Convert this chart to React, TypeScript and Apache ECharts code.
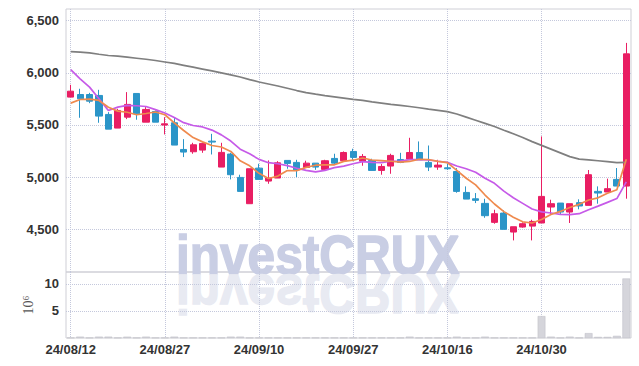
import React, { useEffect, useRef } from "react";
import * as echarts from "echarts";

const dates = [
  "24/08/12", "24/08/13", "24/08/14", "24/08/16", "24/08/19", "24/08/20", "24/08/21", "24/08/22", "24/08/23", "24/08/26",
  "24/08/27", "24/08/28", "24/08/29", "24/08/30", "24/09/02", "24/09/03", "24/09/04", "24/09/05", "24/09/06", "24/09/09",
  "24/09/10", "24/09/11", "24/09/12", "24/09/13", "24/09/19", "24/09/20", "24/09/23", "24/09/24", "24/09/25", "24/09/26",
  "24/09/27", "24/09/30", "24/10/02", "24/10/04", "24/10/07", "24/10/08", "24/10/10", "24/10/11", "24/10/14", "24/10/15",
  "24/10/16", "24/10/17", "24/10/18", "24/10/21", "24/10/22", "24/10/23", "24/10/24", "24/10/25", "24/10/28", "24/10/29",
  "24/10/30", "24/10/31", "24/11/01", "24/11/04", "24/11/05", "24/11/06", "24/11/07", "24/11/08", "24/11/11", "24/11/12",
];

const opens = [
  5767, 5792, 5792, 5783, 5601, 5470, 5575, 5802, 5527, 5629,
  5499, 5521, 5265, 5243, 5259, 5345, 5096, 5221, 4997, 4745,
  5086, 4962, 4991, 5160, 5141, 5093, 5134, 5074, 5179, 5157,
  5246, 5153, 5160, 5064, 5106, 5169, 5173, 5236, 5141, 5096,
  5089, 5054, 4853, 4792, 4748, 4566, 4655, 4473, 4521, 4530,
  4560, 4713, 4751, 4665, 4755, 4729, 4863, 4857, 4978, 4914,
];
const closes = [
  5824, 5751, 5728, 5585, 5460, 5639, 5697, 5607, 5649, 5527,
  5511, 5307, 5240, 5310, 5323, 5336, 5237, 5023, 4863, 5080,
  4978, 4991, 5137, 5131, 5070, 5134, 5096, 5157, 5134, 5236,
  5189, 5198, 5064, 5102, 5208, 5141, 5236, 5166, 5096, 5115,
  5080, 4863, 4789, 4777, 4630, 4649, 4499, 4524, 4553, 4575,
  4815, 4745, 4665, 4745, 4723, 5023, 4847, 4889, 4914, 6182,
];
const lows = [
  5767, 5569, 5709, 5521, 5460, 5470, 5556, 5550, 5527, 5527,
  5409, 5307, 5192, 5224, 5233, 5217, 5096, 4978, 4863, 4745,
  4978, 4936, 4991, 5080, 5000, 5093, 5070, 5074, 5122, 5157,
  5153, 5109, 5064, 5023, 5032, 5134, 5173, 5166, 5058, 5070,
  5070, 4850, 4789, 4751, 4610, 4553, 4499, 4393, 4515, 4393,
  4560, 4643, 4643, 4560, 4691, 4729, 4745, 4857, 4914, 4793,
];
const highs = [
  5885, 5847, 5808, 5837, 5623, 5655, 5815, 5802, 5671, 5639,
  5575, 5575, 5364, 5329, 5330, 5415, 5329, 5233, 5023, 5080,
  5128, 5160, 5153, 5160, 5166, 5157, 5134, 5166, 5224, 5246,
  5272, 5221, 5176, 5125, 5224, 5233, 5377, 5342, 5303, 5166,
  5128, 5086, 4911, 4847, 4792, 4687, 4681, 4524, 4566, 4591,
  5390, 4783, 4751, 4745, 4787, 5068, 4911, 4985, 5087, 6287,
];

const ma5 = [
  5709, 5744, 5748, 5735, 5670, 5633, 5622, 5598, 5610, 5624,
  5598, 5520, 5447, 5379, 5338, 5303, 5289, 5246, 5156, 5108,
  5036, 4987, 5010, 5063, 5061, 5093, 5114, 5118, 5118, 5151,
  5162, 5183, 5164, 5158, 5152, 5143, 5150, 5171, 5169, 5151,
  5139, 5064, 4989, 4925, 4828, 4742, 4669, 4616, 4571, 4560,
  4593, 4642, 4671, 4709, 4739, 4780, 4801, 4845, 4879, 5171,
];
const ma10 = [
  6030, 5942, 5863, 5751, 5639, 5671, 5687, 5684, 5677, 5647,
  5615, 5571, 5522, 5495, 5481, 5451, 5405, 5346, 5268, 5223,
  5170, 5138, 5128, 5110, 5085, 5064, 5050, 5064, 5091, 5106,
  5128, 5148, 5141, 5138, 5152, 5153, 5167, 5167, 5164, 5152,
  5141, 5107, 5080, 5047, 4989, 4940, 4866, 4802, 4748, 4694,
  4667, 4656, 4643, 4640, 4649, 4687, 4722, 4758, 4794, 4955,
];
const ma60 = [
  6204, 6198, 6191, 6178, 6166, 6160, 6150, 6140, 6130, 6118,
  6104, 6090, 6072, 6054, 6036, 6018, 5999, 5980, 5960, 5935,
  5912, 5893, 5874, 5852, 5830, 5810, 5795, 5782, 5770, 5758,
  5746, 5735, 5722, 5710, 5698, 5688, 5677, 5665, 5652, 5640,
  5628, 5605, 5575, 5545, 5515, 5485, 5450, 5416, 5380, 5340,
  5304, 5268, 5232, 5196, 5172, 5165, 5157, 5148, 5138, 5142,
];

// volume in millions of shares
const volumes = [
  0.05, 0.25, 0.05, 0.25, 0.25, 0.05, 0.25, 0.05, 0.25, 0.05,
  0.05, 0.25, 0.05, 0.05, 0.05, 0.05, 0.05, 0.25, 0.25, 0.05,
  0.05, 0.05, 0.05, 0.05, 0.05, 0.05, 0.05, 0.05, 0.05, 0.05,
  0.05, 0.05, 0.05, 0.05, 0.05, 0.05, 0.25, 0.05, 0.05, 0.05,
  0.05, 0.25, 0.05, 0.05, 0.25, 0.05, 0.05, 0.05, 0.05, 0.05,
  4.05, 0.25, 0.05, 0.25, 0.05, 0.9, 0.2, 0.2, 0.4, 11.0,
];

const priceTicks = [4500, 5000, 5500, 6000, 6500];
const volumeTicks = [5, 10];

const FONT = '"Liberation Sans", Arial, sans-serif';
const UP = "#e91e63";
const DOWN = "#2b95c8";
const GRID_LINE = { type: "dotted" as const, color: "#c4c8dc", width: 1 };

export default function App() {
  const ref = useRef<HTMLDivElement>(null);

  useEffect(() => {
    if (!ref.current) return;
    const chart = echarts.init(ref.current, undefined, { renderer: "svg" });
    const candles = opens.map((o, i) => [o, closes[i], lows[i], highs[i]]);

    const catAxis = (gridIndex: number, showLabel: boolean) => ({
      type: "category" as const,
      gridIndex,
      data: dates,
      boundaryGap: true,
      axisLine: { show: false },
      axisTick: { show: false, interval: 9, alignWithLabel: true },
      axisLabel: {
        show: showLabel,
        interval: 9,
        fontFamily: FONT,
        fontSize: 13,
        fontWeight: "bold" as const,
        color: "#333",
        margin: 5,
      },
      splitLine: { show: true, interval: 9, alignWithLabel: true, lineStyle: GRID_LINE },
    });

    chart.setOption({
      animation: false,
      backgroundColor: "#ffffff",
      grid: [
        { left: 66, right: 8, top: 9, height: 263, show: true, borderColor: "#cfcfd6", borderWidth: 1 },
        { left: 66, right: 8, top: 272, height: 66, show: true, borderColor: "#cfcfd6", borderWidth: 1 },
      ],
      xAxis: [catAxis(0, false), catAxis(1, true)],
      yAxis: [
        {
          type: "value",
          gridIndex: 0,
          min: 4090,
          max: 6612,
          axisLine: { show: false },
          axisTick: { show: false, customValues: priceTicks },
          axisLabel: {
            customValues: priceTicks,
            formatter: (v: number) => v.toLocaleString("en-US"),
            fontFamily: FONT,
            fontSize: 13,
            fontWeight: "bold",
            color: "#333",
            margin: 7,
          },
          splitLine: { show: true, lineStyle: GRID_LINE },
        },
        {
          type: "value",
          gridIndex: 1,
          min: 0,
          max: 12.2,
          name: "10\u2076",
          nameLocation: "middle",
          nameRotate: 90,
          nameGap: 31,
          nameMoveOverlap: false,
          nameTextStyle: { fontFamily: "serif", fontSize: 14, color: "#555" },
          axisLine: { show: false },
          axisTick: { show: false, customValues: volumeTicks },
          axisLabel: {
            customValues: volumeTicks,
            fontFamily: FONT,
            fontSize: 13,
            fontWeight: "bold",
            color: "#333",
            margin: 7,
          },
          splitLine: { show: true, lineStyle: GRID_LINE },
        },
      ],
      graphic: [
        {
          type: "text",
          x: 176,
          y: 254,
          scaleX: 0.885,
          z: 0,
          silent: true,
          style: {
            text: "investCRUX",
            font: 'bold 56px "Liberation Sans", Arial, sans-serif',
            fill: "#c9cee4",
            stroke: "#c9cee4",
            lineWidth: 1.5,
            textAlign: "left",
            textVerticalAlign: "middle",
          },
        },
        {
          type: "text",
          x: 176,
          y: 276,
          scaleX: 0.885,
          scaleY: -1,
          z: 0,
          silent: true,
          style: {
            text: "investCRUX",
            x: 0,
            y: -19,
            font: 'bold 56px "Liberation Sans", Arial, sans-serif',
            fill: "#e8eaf2",
            stroke: "#e8eaf2",
            lineWidth: 1.5,
            textAlign: "left",
            textVerticalAlign: "middle",
          },
        },
      ],
      series: [
        {
          type: "candlestick",
          xAxisIndex: 0,
          yAxisIndex: 0,
          data: candles,
          barWidth: "70%",
          itemStyle: { color: UP, color0: DOWN, borderColor: UP, borderColor0: DOWN, borderWidth: 1 },
          z: 3,
        },
        {
          type: "line",
          xAxisIndex: 0,
          yAxisIndex: 0,
          data: ma60,
          symbol: "none",
          lineStyle: { color: "#7f7f7f", width: 1.7 },
          z: 4,
        },
        {
          type: "line",
          xAxisIndex: 0,
          yAxisIndex: 0,
          data: ma10,
          symbol: "none",
          lineStyle: { color: "#c65ae8", width: 1.7 },
          z: 4,
        },
        {
          type: "line",
          xAxisIndex: 0,
          yAxisIndex: 0,
          data: ma5,
          symbol: "none",
          lineStyle: { color: "#ef8a4e", width: 1.7 },
          z: 4,
        },
        {
          type: "bar",
          xAxisIndex: 1,
          yAxisIndex: 1,
          data: volumes,
          barWidth: "82%",
          itemStyle: { color: "#d5d5db", borderColor: "#bcbcc4", borderWidth: 0.5 },
          z: 3,
        },
      ],
    });

    return () => chart.dispose();
  }, []);

  return (
    <div
      ref={ref}
      style={{ position: "fixed", left: 0, top: 0, width: 639, height: 366, background: "#fff" }}
    />
  );
}
